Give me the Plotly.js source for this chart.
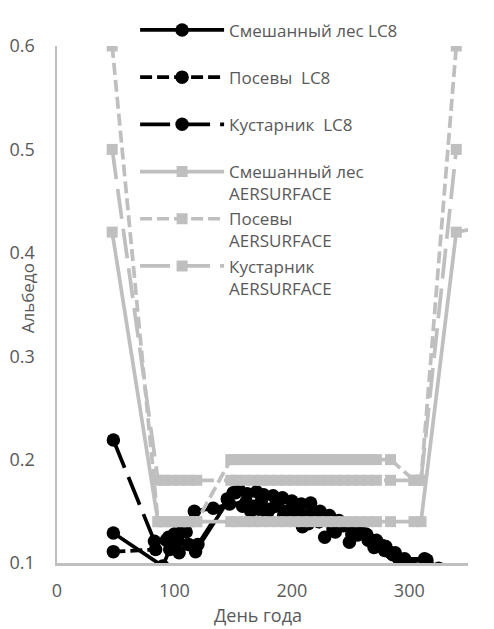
<!DOCTYPE html>
<html>
<head>
<meta charset="utf-8">
<script src="https://cdn.plot.ly/plotly-3.0.1.min.js"></script>
<style>
  html, body { margin: 0; padding: 0; background: #ffffff; }
  #chart { width: 494px; height: 629px; }
</style>
</head>
<body>
<div id="chart"></div>
<script>
// Landsat-8 (LC8) albedo by day of year
const mixedLC8Days = [48, 90, 96, 104, 112, 118, 150, 155, 162, 170, 176, 184, 192, 200, 208, 216, 224, 232, 240, 248, 256, 264, 272, 280, 288, 296, 313, 328];
const mixedLC8Vals = [0.129, 0.097, 0.113, 0.110, 0.118, 0.111, 0.168, 0.171, 0.167, 0.169, 0.166, 0.165, 0.163, 0.160, 0.157, 0.158, 0.150, 0.146, 0.141, 0.137, 0.132, 0.127, 0.122, 0.116, 0.110, 0.104, 0.104, 0.092];

const cropLC8Days = [48, 84, 93, 100, 107, 117, 133, 147, 161, 167, 174, 181, 188, 195, 202, 209, 216, 223, 230, 237, 244, 251, 258, 265, 272, 279, 286, 293, 300];
const cropLC8Vals = [0.111, 0.113, 0.122, 0.128, 0.132, 0.150, 0.153, 0.157, 0.159, 0.155, 0.160, 0.152, 0.157, 0.150, 0.152, 0.135, 0.148, 0.140, 0.141, 0.130, 0.136, 0.128, 0.130, 0.122, 0.118, 0.112, 0.108, 0.103, 0.099];

const shrubLC8Days = [48, 83, 95, 103, 110, 120, 145, 152, 158, 165, 172, 179, 186, 193, 200, 207, 214, 221, 228, 235, 242, 249, 256, 263, 270, 277, 284, 291, 298, 315, 325];
const shrubLC8Vals = [0.219, 0.121, 0.125, 0.121, 0.130, 0.118, 0.162, 0.168, 0.155, 0.150, 0.152, 0.148, 0.155, 0.146, 0.142, 0.148, 0.138, 0.145, 0.125, 0.133, 0.138, 0.120, 0.127, 0.128, 0.115, 0.117, 0.110, 0.104, 0.101, 0.103, 0.095];

// AERSURFACE seasonal albedo on the same calendar
const aerDays = [47, 86, 91, 98, 105, 112, 119, 148, 153, 160, 167, 174, 181, 188, 195, 202, 209, 216, 223, 230, 237, 244, 251, 258, 265, 272, 284, 304, 310, 340];
const mixedAerVals = [0.42, 0.14, 0.14, 0.14, 0.14, 0.14, 0.14, 0.14, 0.14, 0.14, 0.14, 0.14, 0.14, 0.14, 0.14, 0.14, 0.14, 0.14, 0.14, 0.14, 0.14, 0.14, 0.14, 0.14, 0.14, 0.14, 0.14, 0.14, 0.14, 0.42];
const mixedAerTailDay = [362];
const mixedAerTailVal = [0.425];
const cropAerVals = [0.60, 0.14, 0.14, 0.14, 0.14, 0.14, 0.14, 0.20, 0.20, 0.20, 0.20, 0.20, 0.20, 0.20, 0.20, 0.20, 0.20, 0.20, 0.20, 0.20, 0.20, 0.20, 0.20, 0.20, 0.20, 0.20, 0.20, 0.18, 0.18, 0.60];
const shrubAerVals = [0.50, 0.18, 0.18, 0.18, 0.18, 0.18, 0.18, 0.18, 0.18, 0.18, 0.18, 0.18, 0.18, 0.18, 0.18, 0.18, 0.18, 0.18, 0.18, 0.18, 0.18, 0.18, 0.18, 0.18, 0.18, 0.18, 0.18, 0.18, 0.18, 0.50];

const names = [
  'Смешанный лес LC8<br>\u00a0',
  'Посевы \u00a0LC8<br>\u00a0',
  'Кустарник \u00a0LC8<br>\u00a0',
  'Смешанный лес<br>AERSURFACE',
  'Посевы<br>AERSURFACE',
  'Кустарник<br>AERSURFACE'
];

const xTicks = [0, 100, 200, 300];
const yTicks = [0.1, 0.2, 0.3, 0.4, 0.5, 0.6];

const BLACK = '#000000';
const GRAY = '#bfbfbf';
const TEXT = '#595959';
const SHORT_DASH = '12px,5px';
const LONG_DASH = '30px,10px';

function lc8(x, y, name, dash) {
  return {
    x: x, y: y, name: name, type: 'scatter', mode: 'lines+markers',
    line: { color: BLACK, width: 3.7, dash: dash },
    marker: { color: BLACK, size: 13.5, symbol: 'circle' }
  };
}
function aer(x, y, name, dash) {
  return {
    x: x, y: y, name: name, type: 'scatter', mode: 'lines+markers',
    line: { color: GRAY, width: 3.7, dash: dash },
    marker: { color: GRAY, size: 11, symbol: 'square' }
  };
}

const mixedAer = aer(aerDays.concat(mixedAerTailDay), mixedAerVals.concat(mixedAerTailVal), names[3], 'solid');

const data = [
  lc8(mixedLC8Days, mixedLC8Vals, names[0], 'solid'),
  lc8(cropLC8Days, cropLC8Vals, names[1], SHORT_DASH),
  lc8(shrubLC8Days, shrubLC8Vals, names[2], LONG_DASH),
  mixedAer,
  aer(aerDays, cropAerVals, names[4], SHORT_DASH),
  aer(aerDays, shrubAerVals, names[5], LONG_DASH)
];

const FONT = 'Open Sans, sans-serif';

const layout = {
  width: 494, height: 629,
  margin: { l: 57, r: 26, t: 46, b: 66 },
  paper_bgcolor: '#ffffff',
  plot_bgcolor: '#ffffff',
  font: { family: FONT, size: 18, color: TEXT },
  showlegend: true,
  legend: {
    x: 0.19, y: 1.065, xanchor: 'left', yanchor: 'top',
    bgcolor: 'rgba(0,0,0,0)',
    font: { family: FONT, size: 17, color: TEXT },
    itemwidth: 84, valign: 'top', tracegroupgap: 0
  },
  xaxis: {
    range: [0, 350], tickvals: xTicks, ticktext: xTicks.map(String),
    showgrid: false, zeroline: false, showline: true,
    linecolor: GRAY, linewidth: 2.5, ticks: '',
    ticklabelstandoff: 10,
    tickfont: { family: FONT, size: 18, color: TEXT }
  },
  yaxis: {
    range: [0.1, 0.6], tickvals: yTicks, ticktext: yTicks.map(v => v.toFixed(1)),
    showgrid: false, zeroline: false, showline: true,
    linecolor: GRAY, linewidth: 2.5, ticks: '',
    ticklabelstandoff: 16,
    tickfont: { family: FONT, size: 18, color: TEXT }
  },
  annotations: [
    { text: 'День года', xref: 'paper', yref: 'paper', x: 0.488, y: -0.1,
      xanchor: 'center', yanchor: 'middle', showarrow: false,
      font: { family: FONT, size: 18, color: TEXT } },
    { text: 'Альбедо', xref: 'paper', yref: 'paper', x: -0.073, y: 0.512,
      xanchor: 'center', yanchor: 'middle', textangle: -90, showarrow: false,
      font: { family: FONT, size: 17, color: TEXT } }
  ]
};

Plotly.newPlot('chart', data, layout, { staticPlot: true, displayModeBar: false });
</script>
</body>
</html>
